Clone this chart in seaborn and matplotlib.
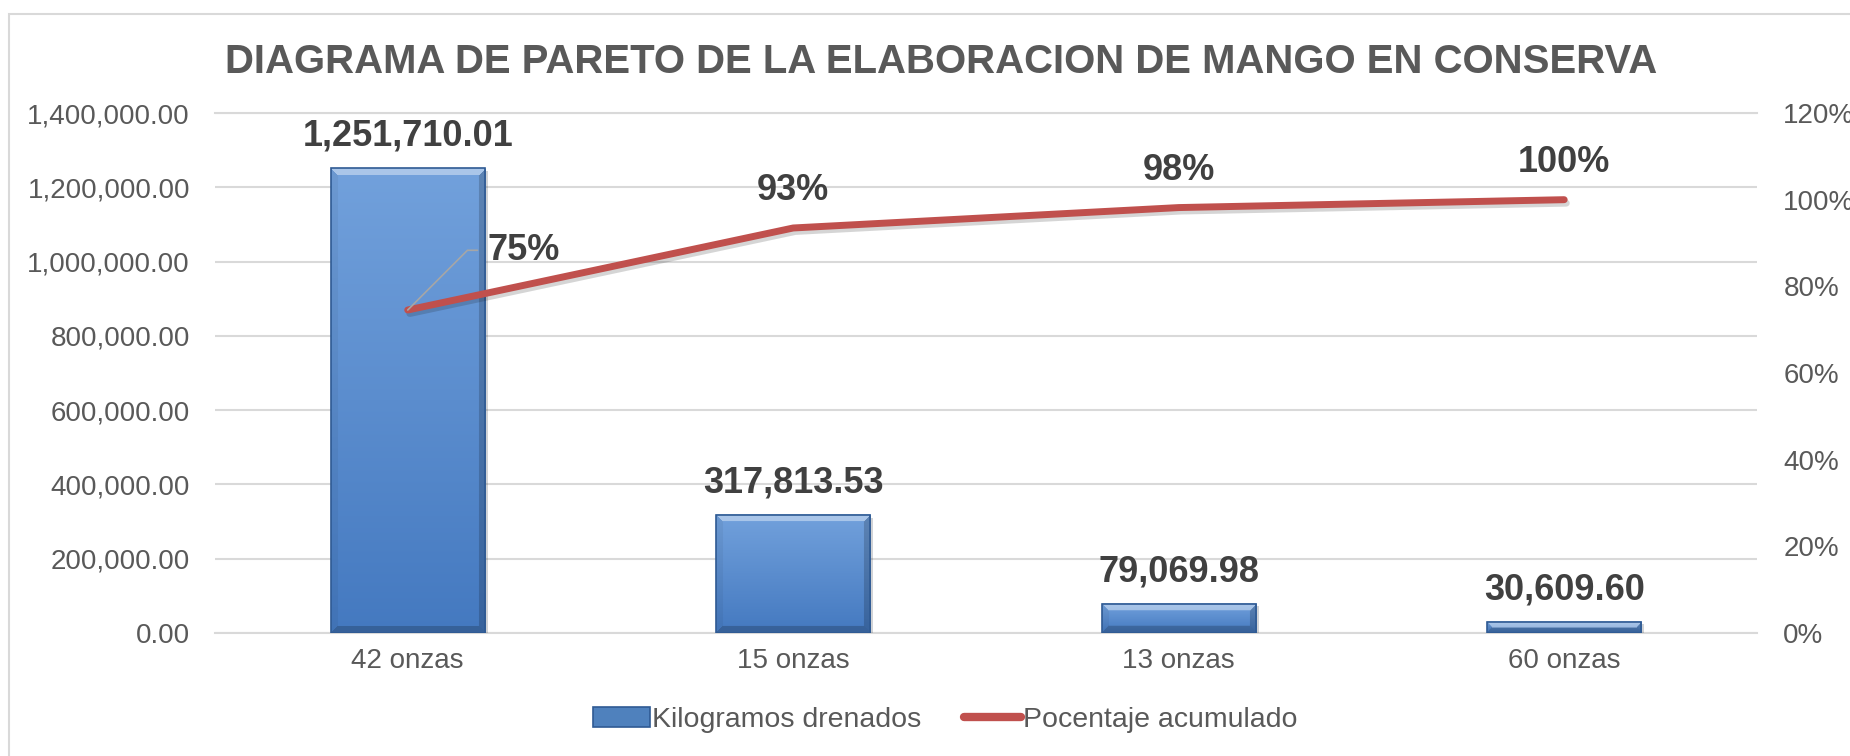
import numpy as np
import pandas as pd
import matplotlib
matplotlib.use('Agg')
import matplotlib.pyplot as plt
import matplotlib.patheffects as pe
from matplotlib.patches import Rectangle
from matplotlib.lines import Line2D
from matplotlib.ticker import FuncFormatter, PercentFormatter
import seaborn as sns

# datos del diagrama de pareto
categorias = ['42 onzas', '15 onzas', '13 onzas', '60 onzas']
kilos = [1251710.01, 317813.53, 79069.98, 30609.60]
pct_acum = [0.7454, 0.9347, 0.9818, 1.0]
titulo = 'DIAGRAMA DE PARETO DE LA ELABORACION DE MANGO EN CONSERVA'
serie_barras = 'Kilogramos drenados'
serie_linea = 'Pocentaje acumulado'

sns.set_theme(style='white')
plt.rcParams['font.family'] = ['Liberation Sans', 'DejaVu Sans']

GRIS_TXT = '#595959'
GRIS_DAT = '#404040'
GRID = '#D9D9D9'
ROJO = '#C0504D'

fig = plt.figure(figsize=(18.5, 7.56), dpi=100)
ax = fig.add_axes([0.1162, 0.1627, 0.8335, 0.6878])

df = pd.DataFrame({'cat': categorias, 'kg': kilos})
sns.barplot(data=df, x='cat', y='kg', ax=ax, width=0.4, color='#4F81BD',
            linewidth=0, zorder=3)

ax.set_xlim(-0.5, len(categorias) - 0.5)
ax.set_ylim(0, 1.4e6)
ax.set_yticks(np.arange(0, 1.4e6 + 1, 2e5))
ax.yaxis.set_major_formatter(FuncFormatter(lambda v, p: f'{v:,.2f}'))
ax.yaxis.grid(True, color=GRID, lw=1.5)
ax.set_axisbelow(True)
for s in ['left', 'right']:
    ax.spines[s].set_visible(False)
for s in ['top', 'bottom']:
    ax.spines[s].set_color(GRID)
    ax.spines[s].set_linewidth(1.5)
ax.tick_params(axis='y', length=0, pad=18, labelsize=20, labelcolor=GRIS_TXT)
ax.tick_params(axis='x', length=0, pad=11, labelsize=20, labelcolor=GRIS_TXT)
ax.set_xlabel('')
ax.set_ylabel('')

# barras con degradado y bisel al estilo excel
top_col = np.array([0x72, 0xA1, 0xDC]) / 255
bot_col = np.array([0x44, 0x79, 0xC0]) / 255
ppx = ax.get_window_extent().width / (ax.get_xlim()[1] - ax.get_xlim()[0])
ppy = ax.get_window_extent().height / (ax.get_ylim()[1] - ax.get_ylim()[0])
for patch in list(ax.patches):
    x0, w, h = patch.get_x(), patch.get_width(), patch.get_height()
    wp, hp = max(int(w * ppx), 2), max(int(h * ppy), 2)
    yy, xx = np.mgrid[0:hp, 0:wp]
    t = (yy / max(hp - 1, 1))[..., None]
    img = top_col * (1 - t) + bot_col * t
    d = np.stack([yy, hp - 1 - yy, xx, wp - 1 - xx])
    face = d.argmin(axis=0)
    b = min(7, hp / 2, wp / 2)
    near = d.min(axis=0) < b
    img[near & (face == 0)] = img[near & (face == 0)] * 0.6 + 0.4
    img[near & (face == 1)] *= 0.8
    img[near & (face == 2)] *= 0.95
    img[near & (face == 3)] *= 0.82
    patch.set_path_effects([pe.SimplePatchShadow(offset=(2, -2), alpha=0.2), pe.Normal()])
    ax.imshow(img, extent=(x0, x0 + w, 0, h), aspect='auto', zorder=3.5,
              interpolation='bilinear')
    ax.add_patch(Rectangle((x0, 0), w, h, fill=False, ec='#2F5A93', lw=1.2, zorder=4))

ax.set_xlim(-0.5, len(categorias) - 0.5)
ax.set_ylim(0, 1.4e6)

for i, v in enumerate(kilos):
    ax.annotate(f'{v:,.2f}', (i, v), xytext=(0, 23), textcoords='offset points',
                ha='center', va='center', fontsize=26, fontweight='bold', color=GRIS_DAT)

# eje secundario: porcentaje acumulado
ax2 = ax.twinx()
sns.lineplot(x=np.arange(len(categorias)), y=pct_acum, ax=ax2, color=ROJO, lw=5,
             solid_capstyle='round', sort=False,
             path_effects=[pe.SimpleLineShadow(offset=(1.5, -2.5), alpha=0.18), pe.Normal()])
ax2.set_ylim(0, 1.2)
ax2.set_yticks(np.arange(0, 1.21, 0.2))
ax2.yaxis.set_major_formatter(PercentFormatter(1.0, decimals=0))
ax2.tick_params(axis='y', length=0, pad=19, labelsize=20, labelcolor=GRIS_TXT)
ax2.grid(False)
for s in ax2.spines.values():
    s.set_visible(False)
ax2.set_ylabel('')
ax.set_xlim(-0.5, len(categorias) - 0.5)

for i, p in enumerate(pct_acum):
    if i == 0:
        ax2.annotate(f'{p:.0%}', (i, p), xytext=(57.6, 43), textcoords='offset points',
                     ha='left', va='center', fontsize=26, fontweight='bold', color=GRIS_DAT,
                     arrowprops=dict(arrowstyle='-', color='#A6A6A6', lw=1.2,
                                     connectionstyle='angle,angleA=0,angleB=45,rad=0',
                                     shrinkA=5, shrinkB=0, relpos=(0, 0.5)))
    else:
        ax2.annotate(f'{p:.0%}', (i, p), xytext=(0, 27), textcoords='offset points',
                     ha='center', va='center', fontsize=26, fontweight='bold', color=GRIS_DAT)

fig.text(0.5086, 0.918, titulo, ha='center', va='center', fontsize=28.9,
         fontweight='bold', color=GRIS_TXT)

fig.add_artist(Rectangle((9 / 1850, -0.05), 1.2, 1 - 14 / 756 + 0.05,
                         transform=fig.transFigure, fill=False, ec=GRID, lw=1.5))

handles = [Rectangle((0, 0), 1, 1, fc='#4F81BD', ec='#2F5A93', lw=1.2),
           Line2D([0], [0], color=ROJO, lw=6, solid_capstyle='round')]
fig.legend(handles, [serie_barras, serie_linea], loc='center', bbox_to_anchor=(0.511, 0.048),
           ncol=2, frameon=False, fontsize=20.5, handlelength=2.0, handletextpad=0.08,
           columnspacing=1.5, labelcolor=GRIS_TXT)

fig.savefig('out.png', dpi=100)
